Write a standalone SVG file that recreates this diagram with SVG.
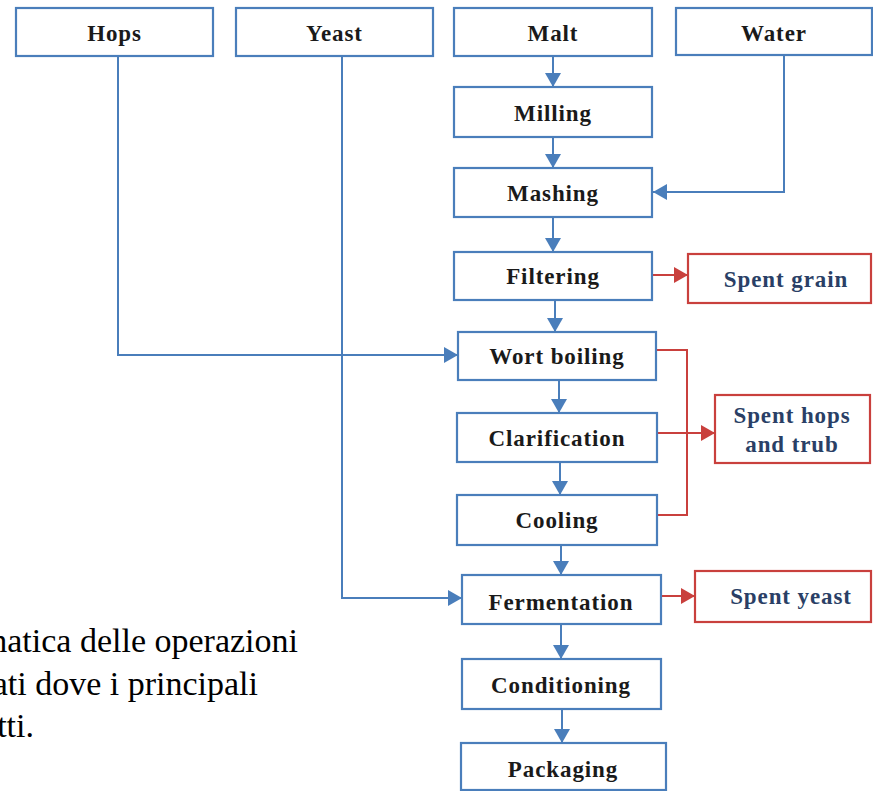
<svg xmlns="http://www.w3.org/2000/svg" width="873" height="791" viewBox="0 0 873 791">
<defs>
<style>
.b{fill:#fff;stroke:#4a7ebb;stroke-width:2.2}
.r{fill:#fff;stroke:#c9403d;stroke-width:2.2}
.t{font-family:"Liberation Serif","Times New Roman",serif;font-weight:bold;font-size:23px;letter-spacing:0.9px;text-anchor:middle;fill:#1a1a1a}
.tr{font-family:"Liberation Serif","Times New Roman",serif;font-weight:bold;font-size:23px;letter-spacing:0.9px;text-anchor:middle;fill:#2a3f66}
.cb{fill:none;stroke:#4a7ebb;stroke-width:2}
.cr{fill:none;stroke:#c9403d;stroke-width:2}
.cap{font-family:"Liberation Serif","Times New Roman",serif;font-size:34px;text-anchor:end;fill:#000}
</style>
<marker id="ab" markerUnits="userSpaceOnUse" markerWidth="15" markerHeight="16" refX="14" refY="8" orient="auto">
<path d="M0,0 L14,8 L0,16 Z" fill="#4a7ebb"/>
</marker>
<marker id="ar" markerUnits="userSpaceOnUse" markerWidth="15" markerHeight="16" refX="14" refY="8" orient="auto">
<path d="M0,0 L14,8 L0,16 Z" fill="#c9403d"/>
</marker>
</defs>
<rect width="873" height="791" fill="#fff"/>
<g id="connectors">
<path class="cb" marker-end="url(#ab)" d="M553,56 V87"/>
<path class="cb" marker-end="url(#ab)" d="M553,137 V168"/>
<path class="cb" marker-end="url(#ab)" d="M784,55 V192 H653"/>
<path class="cb" marker-end="url(#ab)" d="M553,217 V252"/>
<path class="cr" marker-end="url(#ar)" d="M652,275 H688"/>
<path class="cb" marker-end="url(#ab)" d="M555,300 V332"/>
<path class="cb" marker-end="url(#ab)" d="M118,56 V355 H458"/>
<path class="cb" marker-end="url(#ab)" d="M559,380 V413"/>
<path class="cr" d="M656,350 H687 V515 H657"/>
<path class="cr" marker-end="url(#ar)" d="M657,433 H715"/>
<path class="cb" marker-end="url(#ab)" d="M560,462 V495"/>
<path class="cb" marker-end="url(#ab)" d="M561,545 V575"/>
<path class="cb" marker-end="url(#ab)" d="M342,56 V598 H462"/>
<path class="cr" marker-end="url(#ar)" d="M661,596 H695"/>
<path class="cb" marker-end="url(#ab)" d="M561,624 V659"/>
<path class="cb" marker-end="url(#ab)" d="M562,709 V743"/>
</g>
<g id="hops"><rect class="b" x="16" y="8" width="197" height="48"/><text class="t" x="114.5" y="41">Hops</text></g>
<g id="yeast"><rect class="b" x="236" y="8" width="197" height="48"/><text class="t" x="334.5" y="41">Yeast</text></g>
<g id="malt"><rect class="b" x="454" y="8" width="198" height="48"/><text class="t" x="553" y="41">Malt</text></g>
<g id="water"><rect class="b" x="676" y="8" width="196" height="47"/><text class="t" x="774" y="41">Water</text></g>
<g id="milling"><rect class="b" x="454" y="87" width="198" height="50"/><text class="t" x="553" y="121">Milling</text></g>
<g id="mashing"><rect class="b" x="454" y="168" width="198" height="49"/><text class="t" x="553" y="201">Mashing</text></g>
<g id="filtering"><rect class="b" x="454" y="252" width="198" height="48"/><text class="t" x="553" y="284">Filtering</text></g>
<g id="spent-grain"><rect class="r" x="688" y="254" width="183" height="49"/><text class="tr" x="786" y="287">Spent grain</text></g>
<g id="wort-boiling"><rect class="b" x="458" y="332" width="198" height="48"/><text class="t" x="557" y="364">Wort boiling</text></g>
<g id="clarification"><rect class="b" x="457" y="413" width="200" height="49"/><text class="t" x="557" y="446">Clarification</text></g>
<g id="spent-hops"><rect class="r" x="715" y="395" width="155" height="68"/><text class="tr" x="792" y="423">Spent hops</text><text class="tr" x="792" y="452">and trub</text></g>
<g id="cooling"><rect class="b" x="457" y="495" width="200" height="50"/><text class="t" x="557" y="528">Cooling</text></g>
<g id="fermentation"><rect class="b" x="462" y="575" width="199" height="49"/><text class="t" x="561" y="610">Fermentation</text></g>
<g id="spent-yeast"><rect class="r" x="695" y="571" width="176" height="51"/><text class="tr" x="791" y="604">Spent yeast</text></g>
<g id="conditioning"><rect class="b" x="462" y="659" width="199" height="50"/><text class="t" x="561" y="693">Conditioning</text></g>
<g id="packaging"><rect class="b" x="461" y="743" width="205" height="47"/><text class="t" x="563" y="777">Packaging</text></g>
<g id="caption">
<text class="cap" x="298" y="652">natica delle operazioni</text>
<text class="cap" x="258" y="695">ati dove i principali</text>
<text class="cap" x="34" y="737">tti.</text>
</g>
</svg>
